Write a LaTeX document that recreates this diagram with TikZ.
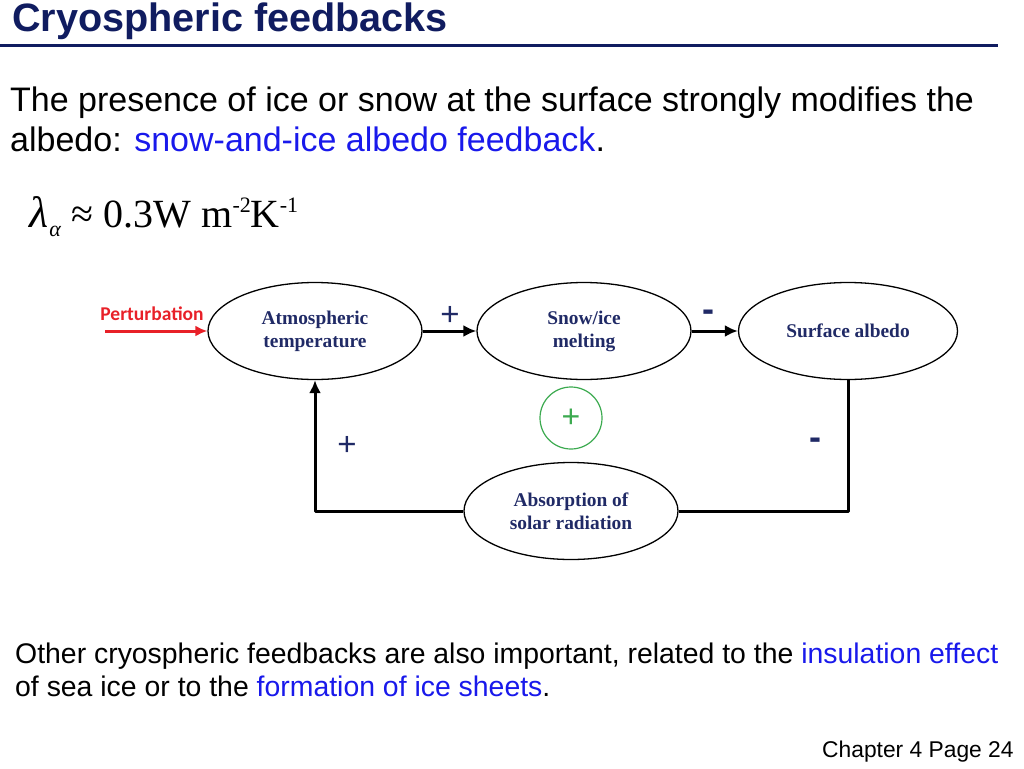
\documentclass[tikz,border=0pt]{standalone}
\usepackage{fontspec}
\setmainfont{Liberation Sans}
\newfontfamily\timesfont{Liberation Serif}
\newfontfamily\calibrifont{Carlito}
\usetikzlibrary{shapes.geometric,arrows.meta}

\definecolor{titlenavy}{RGB}{16,28,96}
\definecolor{bubbletext}{RGB}{32,42,102}
\definecolor{linkblue}{RGB}{25,25,235}
\definecolor{pertred}{RGB}{232,32,40}
\definecolor{loopgreen}{RGB}{60,170,80}

\newcommand{\unitpow}[1]{\raisebox{15pt}{\fontsize{22}{22}\selectfont #1}}

\tikzset{
  bubble/.style={draw, ellipse, line width=1.3pt, minimum width=214pt, minimum height=97pt,
    inner sep=0pt, align=center, text=bubbletext,
    font=\timesfont\bfseries\fontsize{19.4}{23}\selectfont},
  flow/.style={line width=3pt, -{Latex[length=13pt,width=12pt]}},
  sign/.style={text=bubbletext, inner sep=0pt, font=\fontsize{33}{33}\selectfont},
  signneg/.style={text=bubbletext, inner sep=0pt, font=\bfseries\fontsize{36}{36}\selectfont},
  slidetext/.style={anchor=base west, inner sep=0pt}
}

\begin{document}
\begin{tikzpicture}[x=1pt,y=-1pt,line join=round]
    \useasboundingbox (0,0) rectangle (1024,768);

        % Title and rule
        \node[slidetext, text=titlenavy, font=\bfseries\fontsize{39.6}{40}\selectfont] (title) at (12,32) {Cryospheric feedbacks};
        \draw[titlenavy, line width=3pt] (0,46) -- (998,46);

        % Intro text
        \node[slidetext, font=\fontsize{34}{34}\selectfont] (intro1) at (10,111)
            {The presence of ice or snow at the surface strongly modifies the};
        \node[slidetext, font=\fontsize{34}{34}\selectfont] (intro2) at (10,151)
            {albedo: \textcolor{linkblue}{snow-and-ice albedo feedback}.};

        % Feedback parameter
        \node[slidetext, font=\timesfont\fontsize{40}{40}\selectfont] (lambda) at (29,227)
            {{\fontsize{44}{44}\selectfont\itshape λ}\hspace{1pt}\raisebox{-9pt}{\fontsize{22}{22}\selectfont\itshape α}\hspace{11pt}≈\hspace{10pt}0.3W m\unitpow{-2}K\unitpow{-1}};

        % Feedback loop
        \node[bubble] (atm) at (315,331) {Atmospheric\\temperature};
        \node[bubble] (melt) at (584,331) {Snow/ice\\melting};
        \node[bubble, minimum width=219pt] (albedo) at (848,331) {Surface albedo};
        \node[bubble] (absorb) at (571,511) {Absorption of\\solar radiation};
        \node[circle, draw=loopgreen, line width=1.2pt, minimum size=62pt, inner sep=0pt,
            text=loopgreen, font=\fontsize{32}{32}\selectfont] (loop) at (571,418) {+};

        % Perturbation
        \coordinate (pstart) at (105,331);
        \draw[pertred, line width=3pt, -{Latex[length=12pt,width=11pt]}] (pstart) -- (atm.west);
        \node[text=pertred, font=\calibrifont\bfseries\fontsize{19.5}{19.5}\selectfont] (pert) at (152,314) {Perturbation};

        % Links
        \draw[flow] (atm.east) -- (melt.west);
        \draw[flow] (melt.east) -- (albedo.west);
        \draw[line width=3pt] (albedo.south) |- (absorb.east);
        \draw[flow] (absorb.west) -| (atm.south);

        % Signs
        \node[sign] (plusA) at (450,316) {+};
        \node[signneg] (minusA) at (708,316) {-};
        \node[sign] (plusB) at (347,446) {+};
        \node[signneg] (minusB) at (815,444) {-};

        % Closing text
        \node[slidetext, font=\fontsize{28.4}{28.4}\selectfont] (outro1) at (15,663)
            {Other cryospheric feedbacks are also important, related to the \textcolor{linkblue}{insulation effect}};
        \node[slidetext, font=\fontsize{28.4}{28.4}\selectfont] (outro2) at (15,696)
            {of sea ice or to the \textcolor{linkblue}{formation of ice sheets}.};
        \node[slidetext, font=\fontsize{22.8}{22.8}\selectfont] (page) at (822,757) {Chapter 4 Page 24};

\end{tikzpicture}
\end{document}
